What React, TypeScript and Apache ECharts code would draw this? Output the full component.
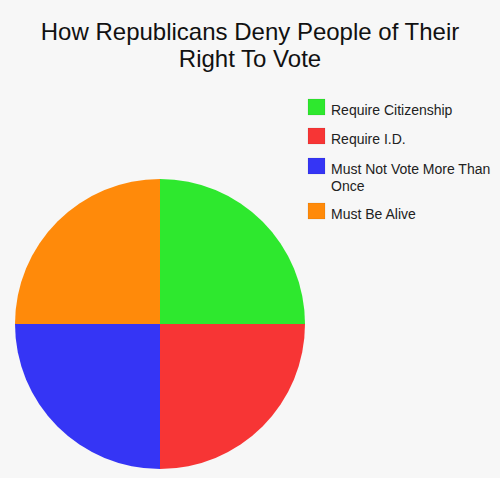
import React, { useEffect, useRef } from "react";
import * as echarts from "echarts";

const titleLines = ["How Republicans Deny People of Their", "Right To Vote"];
const categories = ["Require Citizenship", "Require I.D.", "Must Not Vote More Than\nOnce", "Must Be Alive"];
const values = [25, 25, 25, 25];
const colors = ["#2ee82e", "#f73535", "#3535f5", "#ff8a0a"];
const legendTops = [99, 128, 158, 203];

export default function App() {
  const ref = useRef<HTMLDivElement>(null);
  useEffect(() => {
    if (!ref.current) return;
    const chart = echarts.init(ref.current, null, { renderer: "svg" });
    const font = "'Liberation Sans', Arial, sans-serif";
    const legendGraphics: any[] = [];
    categories.forEach((c, i) => {
      legendGraphics.push({
        type: "rect",
        shape: { x: 308, y: legendTops[i], width: 17, height: 16 },
        style: { fill: colors[i], stroke: "rgba(0,0,0,0.15)", lineWidth: 0.5 },
      });
      legendGraphics.push({
        type: "text",
        x: 331,
        y: legendTops[i] + 2,
        style: {
          text: c,
          fill: "#222",
          font: `14px ${font}`,
          lineHeight: 17,
          verticalAlign: "top",
        },
      });
    });
    chart.setOption({
      animation: false,
      backgroundColor: "#f7f7f7",
      title: {
        text: titleLines.join("\n"),
        left: "center",
        top: 13,
        textStyle: { fontFamily: font, fontSize: 24, fontWeight: "normal", color: "#111", lineHeight: 27 },
      },
      graphic: legendGraphics,
      series: [
        {
          type: "pie",
          center: [160, 324],
          radius: [0, 145],
          startAngle: 90,
          clockwise: true,
          label: { show: false },
          labelLine: { show: false },
          itemStyle: { borderWidth: 0 },
          emphasis: { disabled: true },
          data: categories.map((c, i) => ({ name: c, value: values[i], itemStyle: { color: colors[i] } })),
        },
      ],
    });
    return () => chart.dispose();
  }, []);
  return <div ref={ref} style={{ position: "absolute", left: 0, top: 0, width: 500, height: 478 }} />;
}
